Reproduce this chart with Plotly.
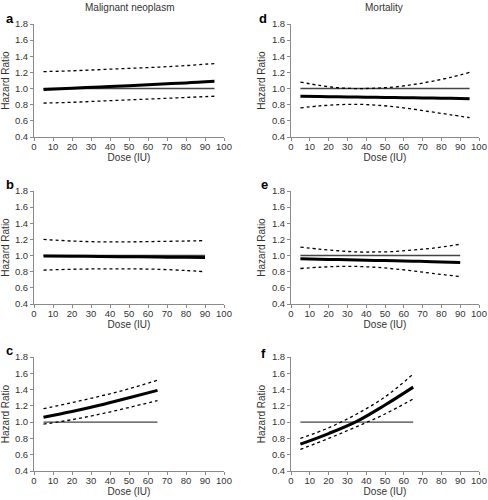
import plotly.graph_objects as go

W, H = 488, 500

# ---------------- data ----------------
# Panel a: Malignant neoplasm
a_x = [5, 20, 35, 50, 65, 80, 95]
a_hr = [0.99, 1.005, 1.02, 1.035, 1.055, 1.07, 1.09]
a_up = [1.21, 1.22, 1.235, 1.25, 1.265, 1.285, 1.31]
a_lo = [0.82, 0.83, 0.845, 0.86, 0.875, 0.89, 0.905]

# Panel b
b_x = [5, 20, 35, 50, 65, 80, 90]
b_hr = [0.995, 0.992, 0.988, 0.985, 0.982, 0.978, 0.975]
b_up = [1.20, 1.18, 1.17, 1.17, 1.175, 1.18, 1.185]
b_lo = [0.82, 0.83, 0.835, 0.835, 0.83, 0.815, 0.80]

# Panel c
c_x = [5, 20, 35, 50, 65]
c_hr = [1.06, 1.13, 1.21, 1.30, 1.39]
c_up = [1.165, 1.24, 1.32, 1.41, 1.515]
c_lo = [0.975, 1.03, 1.10, 1.18, 1.265]

# Panel d: Mortality
d_x = [5, 15, 25, 35, 45, 55, 65, 75, 85, 95]
d_hr = [0.905, 0.902, 0.898, 0.895, 0.892, 0.889, 0.886, 0.882, 0.879, 0.875]
d_up = [1.08, 1.04, 1.01, 1.0, 1.005, 1.02, 1.05, 1.09, 1.14, 1.20]
d_lo = [0.76, 0.785, 0.80, 0.805, 0.795, 0.775, 0.745, 0.71, 0.675, 0.64]

# Panel e
e_x = [5, 15, 25, 35, 45, 55, 65, 75, 90]
e_hr = [0.96, 0.955, 0.95, 0.945, 0.94, 0.935, 0.93, 0.925, 0.915]
e_up = [1.105, 1.08, 1.06, 1.045, 1.045, 1.05, 1.07, 1.09, 1.14]
e_lo = [0.84, 0.855, 0.865, 0.865, 0.855, 0.835, 0.81, 0.78, 0.74]

# Panel f
f_x = [5, 20, 35, 50, 65]
f_hr = [0.73, 0.86, 1.01, 1.21, 1.43]
f_up = [0.80, 0.93, 1.10, 1.31, 1.59]
f_lo = [0.665, 0.80, 0.945, 1.10, 1.285]

panel_letters = ["a", "b", "c", "d", "e", "f"]
column_titles = ["Malignant neoplasm", "Mortality"]
y_ticks = [0.4, 0.6, 0.8, 1.0, 1.2, 1.4, 1.6, 1.8]
x_ticks = [0, 10, 20, 30, 40, 50, 60, 70, 80, 90, 100]
x_title = "Dose (IU)"
y_title = "Hazard Ratio"

panels = [
    (a_x, a_hr, a_up, a_lo),
    (b_x, b_hr, b_up, b_lo),
    (c_x, c_hr, c_up, c_lo),
    (d_x, d_hr, d_up, d_lo),
    (e_x, e_hr, e_up, e_lo),
    (f_x, f_hr, f_up, f_lo),
]

# ---------------- layout (pixels) ----------------
def px(x):
    return x / W

def py(y):
    return 1 - y / H

col_x = [(34, 224), (291, 479)]
row_y = [(24, 137), (191, 304), (357, 471)]

fig = go.Figure()
font_family = "Liberation Sans, Arial, sans-serif"
axis_color = "#8a8a8a"
text_color = "#333333"

for i, (xs, hr, up, lo) in enumerate(panels):
    col = i // 3
    row = i % 3
    n = i + 1
    xa = "x" if n == 1 else f"x{n}"
    ya = "y" if n == 1 else f"y{n}"
    # reference line at HR = 1
    fig.add_trace(go.Scatter(x=[xs[0], xs[-1]], y=[1.0, 1.0], mode="lines",
                             line=dict(color="#444444", width=1.4),
                             xaxis=xa, yaxis=ya, showlegend=False, hoverinfo="skip"))
    fig.add_trace(go.Scatter(x=xs, y=up, mode="lines", line_shape="spline",
                             line=dict(color="black", width=1.3, dash="dot"),
                             xaxis=xa, yaxis=ya, showlegend=False))
    fig.add_trace(go.Scatter(x=xs, y=lo, mode="lines", line_shape="spline",
                             line=dict(color="black", width=1.3, dash="dot"),
                             xaxis=xa, yaxis=ya, showlegend=False))
    fig.add_trace(go.Scatter(x=xs, y=hr, mode="lines", line_shape="spline",
                             line=dict(color="black", width=3),
                             xaxis=xa, yaxis=ya, showlegend=False))

    x0, x1 = col_x[col]
    y0, y1 = row_y[row]
    xkey = "xaxis" if n == 1 else f"xaxis{n}"
    ykey = "yaxis" if n == 1 else f"yaxis{n}"
    fig.layout[xkey] = dict(
        domain=[px(x0), px(x1)], anchor=ya, range=[0, 100], automargin=False,
        tickvals=x_ticks, ticks="outside", ticklen=3, tickcolor=axis_color,
        ticklabelstandoff=-2,
        showline=True, linecolor=axis_color, linewidth=1, showgrid=False, zeroline=False,
        tickfont=dict(size=9.5, color=text_color, family=font_family),
        title=dict(text=x_title, font=dict(size=10, color=text_color, family=font_family), standoff=0),
    )
    fig.layout[ykey] = dict(
        domain=[py(y1), py(y0)], anchor=xa, range=[0.4, 1.8], automargin=False,
        tickvals=y_ticks, tickformat=".1f", ticks="outside", ticklen=3, tickcolor=axis_color,
        showline=True, linecolor=axis_color, linewidth=1, showgrid=False, zeroline=False,
        tickfont=dict(size=9.5, color=text_color, family=font_family),
        title=dict(text=y_title, font=dict(size=10, color=text_color, family=font_family), standoff=4),
    )

annotations = []
letter_pos = [(4, 18), (4, 184), (4, 350), (257, 18), (259, 184), (259, 353)]
for letter, (lx, ly) in zip(panel_letters, letter_pos):
    annotations.append(dict(text=f"<b>{letter}</b>", x=px(lx), y=py(ly), xref="paper", yref="paper",
                            xanchor="left", yanchor="middle", showarrow=False,
                            font=dict(size=13, color="black", family=font_family)))
for title, cx in zip(column_titles, [130, 384]):
    annotations.append(dict(text=title, x=px(cx), y=py(7), xref="paper", yref="paper",
                            xanchor="center", yanchor="middle", showarrow=False,
                            font=dict(size=10, color=text_color, family=font_family)))

fig.update_layout(width=W, height=H, margin=dict(l=0, r=0, t=0, b=0, autoexpand=False),
                  paper_bgcolor="white", plot_bgcolor="white",
                  annotations=annotations)

fig.write_html("out.html", config={"displayModeBar": False},
               post_script="document.body.style.margin='0px';document.body.style.overflow='hidden';")
